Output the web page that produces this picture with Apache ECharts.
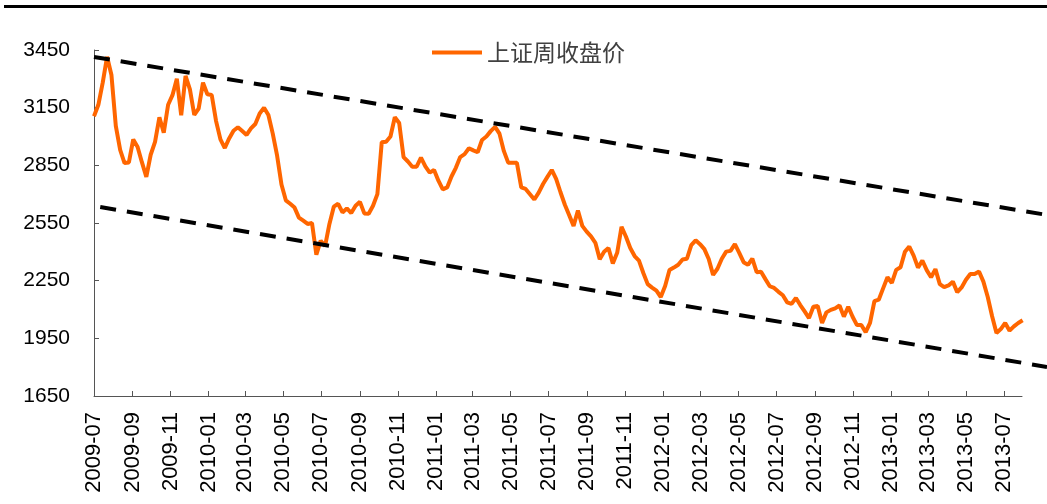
<!DOCTYPE html>
<html>
<head>
<meta charset="utf-8">
<script src="https://cdn.jsdelivr.net/npm/echarts@6/dist/echarts.min.js"></script>
<style>
  html, body { margin: 0; padding: 0; background: #fff; }
  #chart { width: 1047px; height: 504px; }
</style>
</head>
<body>
<div id="chart"></div>
<script>
// weekly dates (one point per week)
const weeks = [
  '2009-07-01','2009-07-08','2009-07-15','2009-07-22','2009-07-29','2009-08-05','2009-08-12','2009-08-19','2009-08-26',
  '2009-09-02','2009-09-09','2009-09-16','2009-09-23','2009-09-30','2009-10-07','2009-10-14','2009-10-21','2009-10-28',
  '2009-11-04','2009-11-11','2009-11-18','2009-11-25','2009-12-02','2009-12-09','2009-12-16','2009-12-23','2009-12-30',
  '2010-01-06','2010-01-13','2010-01-20','2010-01-27','2010-02-03','2010-02-10','2010-02-17','2010-02-24','2010-03-03',
  '2010-03-10','2010-03-17','2010-03-24','2010-03-31','2010-04-07','2010-04-14','2010-04-21','2010-04-28','2010-05-05',
  '2010-05-12','2010-05-19','2010-05-26','2010-06-02','2010-06-09','2010-06-16','2010-06-23','2010-06-30','2010-07-07',
  '2010-07-14','2010-07-21','2010-07-28','2010-08-04','2010-08-11','2010-08-18','2010-08-25','2010-09-01','2010-09-08',
  '2010-09-15','2010-09-22','2010-09-29','2010-10-06','2010-10-13','2010-10-20','2010-10-27','2010-11-03','2010-11-10',
  '2010-11-17','2010-11-24','2010-12-01','2010-12-08','2010-12-15','2010-12-22','2010-12-29',
  '2011-01-05','2011-01-12','2011-01-19','2011-01-26','2011-02-02','2011-02-09','2011-02-16','2011-02-23','2011-03-02',
  '2011-03-09','2011-03-16','2011-03-23','2011-03-30','2011-04-06','2011-04-13','2011-04-20','2011-04-27','2011-05-04',
  '2011-05-11','2011-05-18','2011-05-25','2011-06-01','2011-06-08','2011-06-15','2011-06-22','2011-06-29','2011-07-06',
  '2011-07-13','2011-07-20','2011-07-27','2011-08-03','2011-08-10','2011-08-17','2011-08-24','2011-08-31','2011-09-07',
  '2011-09-14','2011-09-21','2011-09-28','2011-10-05','2011-10-12','2011-10-19','2011-10-26','2011-11-02','2011-11-09',
  '2011-11-16','2011-11-23','2011-11-30','2011-12-07','2011-12-14','2011-12-21','2011-12-28',
  '2012-01-04','2012-01-11','2012-01-18','2012-01-25','2012-02-01','2012-02-08','2012-02-15','2012-02-22','2012-02-29',
  '2012-03-07','2012-03-14','2012-03-21','2012-03-28','2012-04-04','2012-04-11','2012-04-18','2012-04-25','2012-05-02',
  '2012-05-09','2012-05-16','2012-05-23','2012-05-30','2012-06-06','2012-06-13','2012-06-20','2012-06-27','2012-07-04',
  '2012-07-11','2012-07-18','2012-07-25','2012-08-01','2012-08-08','2012-08-15','2012-08-22','2012-08-29','2012-09-05',
  '2012-09-12','2012-09-19','2012-09-26','2012-10-03','2012-10-10','2012-10-17','2012-10-24','2012-10-31','2012-11-07',
  '2012-11-14','2012-11-21','2012-11-28','2012-12-05','2012-12-12','2012-12-19','2012-12-26',
  '2013-01-02','2013-01-09','2013-01-16','2013-01-23','2013-01-30','2013-02-06','2013-02-13','2013-02-20','2013-02-27',
  '2013-03-06','2013-03-13','2013-03-20','2013-03-27','2013-04-03','2013-04-10','2013-04-17','2013-04-24','2013-05-01',
  '2013-05-08','2013-05-15','2013-05-22','2013-05-29','2013-06-05','2013-06-12','2013-06-19','2013-06-26','2013-07-03',
  '2013-07-10','2013-07-17','2013-07-24','2013-07-31'
];

// 上证周收盘价
const closes = [
  3105,3165,3280,3415,3320,3055,2930,2862,2865,2985,2945,2865,2790,2905,2972,3100,3020,3165,3215,3300,3110,3315,3245,3112,3145,3280,3220,
  3216,3080,2985,2940,2990,3030,3048,3028,3008,3042,3065,3120,3150,3112,3015,2900,2750,2668,2650,2630,2578,2562,2545,2550,2385,2458,2430,
  2545,2635,2650,2605,2626,2602,2640,2660,2600,2598,2640,2700,2970,2973,3000,3100,3070,2893,2870,2843,2843,2890,2845,2812,2826,
  2770,2725,2735,2792,2837,2893,2908,2939,2928,2918,2982,3000,3028,3050,3015,2925,2864,2863,2863,2735,2727,2700,2672,2708,2753,2790,
  2826,2780,2710,2645,2590,2535,2615,2535,2505,2480,2447,2362,2400,2420,2340,2395,2530,2480,2420,2378,2354,2290,2232,2214,2198,2165,
  2222,2305,2318,2333,2360,2364,2435,2460,2440,2414,2363,2280,2312,2364,2401,2405,2440,2395,2346,2332,2365,2294,2296,2258,2221,2212,
  2192,2174,2137,2129,2160,2123,2090,2055,2114,2118,2030,2085,2098,2106,2121,2063,2114,2062,2019,2019,1982,2030,2143,2151,2210,2268,
  2238,2306,2320,2400,2427,2380,2318,2355,2305,2268,2310,2232,2216,2225,2245,2190,2215,2255,2285,2285,2298,2245,2165,2065,1978,1998,
  2030,1990,2012,2030,2044
];

// x axis tick marks, every two months
const monthTicks = [
  '2009-07-01','2009-09-01','2009-11-01','2010-01-01','2010-03-01','2010-05-01','2010-07-01','2010-09-01','2010-11-01',
  '2011-01-01','2011-03-01','2011-05-01','2011-07-01','2011-09-01','2011-11-01','2012-01-01','2012-03-01','2012-05-01',
  '2012-07-01','2012-09-01','2012-11-01','2013-01-01','2013-03-01','2013-05-01','2013-07-01'
];
const xStart = '2009-07-01';
const xEnd = '2013-07-30';
// the dashed channel runs on past the plot, up to the picture's right edge
const xEdge = '2013-09-08';

// channel lines (dashed)
const upperTrendDates = ['2009-07-01', '2013-09-08'];
const upperTrendValues = [3414, 2592];
const lowerTrendDates = ['2009-07-11', '2013-09-08'];
const lowerTrendValues = [2633, 1801];

const yTicks = [1650, 1950, 2250, 2550, 2850, 3150, 3450];

const toTime = s => +echarts.time.parse(s);

let myChart = echarts.init(document.getElementById('chart'));

myChart.setOption({
  animation: false,
  textStyle: { fontFamily: 'Liberation Sans, Arial, sans-serif' },
  graphic: [
    { type: 'rect', left: 4, top: 5, shape: { width: 1043, height: 3 }, style: { fill: '#000' } }
  ],
  legend: {
    left: 427,
    top: 36,
    itemWidth: 50,
    itemHeight: 4,
    icon: 'rect',
    data: ['上证周收盘价'],
    textStyle: { fontSize: 23, color: '#404040', fontFamily: 'Noto Sans CJK SC' }
  },
  grid: [
    { left: 94, right: 25, top: 50, bottom: 108, containLabel: false, outerBoundsMode: 'none' },
    { left: 94, right: 0, top: 50, bottom: 108, containLabel: false, outerBoundsMode: 'none' }
  ],
  xAxis: [
    {
      type: 'value',
      gridIndex: 0,
      min: toTime(xStart),
      max: toTime(xEnd),
      splitLine: { show: false },
      axisLine: { lineStyle: { color: '#555', width: 1 } },
      axisTick: {
        inside: true,
        length: 5,
        lineStyle: { color: '#555' },
        customValues: monthTicks.map(toTime)
      },
      axisLabel: {
        rotate: 90,
        margin: 16,
        fontSize: 22,
        color: '#000',
        customValues: monthTicks.map(toTime),
        formatter: v => echarts.time.format(v, '{yyyy}-{MM}', false)
      }
    },
    {
      type: 'value',
      gridIndex: 1,
      min: toTime(xStart),
      max: toTime(xEdge),
      show: false
    }
  ],
  yAxis: [
    {
      type: 'value',
      gridIndex: 0,
      min: yTicks[0],
      max: yTicks[yTicks.length - 1],
      interval: 300,
      splitLine: { show: false },
      axisLine: { show: true, lineStyle: { color: '#555', width: 1 } },
      axisTick: { show: true, inside: true, length: 5, lineStyle: { color: '#555' } },
      axisLabel: { fontSize: 21, color: '#000', margin: 24, formatter: v => String(v) }
    },
    {
      type: 'value',
      gridIndex: 1,
      min: yTicks[0],
      max: yTicks[yTicks.length - 1],
      show: false
    }
  ],
  series: [
    {
      name: '上证周收盘价',
      type: 'line',
      symbol: 'none',
      lineStyle: { color: '#FF6600', width: 4 },
      itemStyle: { color: '#FF6600' },
      data: weeks.map((d, i) => [toTime(d), closes[i]]),
      z: 3
    },
    {
      name: 'upper',
      type: 'line',
      xAxisIndex: 1,
      yAxisIndex: 1,
      symbol: 'none',
      silent: true,
      lineStyle: { color: '#000', width: 4, type: [16, 11] },
      data: upperTrendDates.map((d, i) => [toTime(d), upperTrendValues[i]]),
      z: 4
    },
    {
      name: 'lower',
      type: 'line',
      xAxisIndex: 1,
      yAxisIndex: 1,
      symbol: 'none',
      silent: true,
      lineStyle: { color: '#000', width: 4, type: [16, 11] },
      data: lowerTrendDates.map((d, i) => [toTime(d), lowerTrendValues[i]]),
      z: 4
    }
  ]
});
</script>
</body>
</html>
